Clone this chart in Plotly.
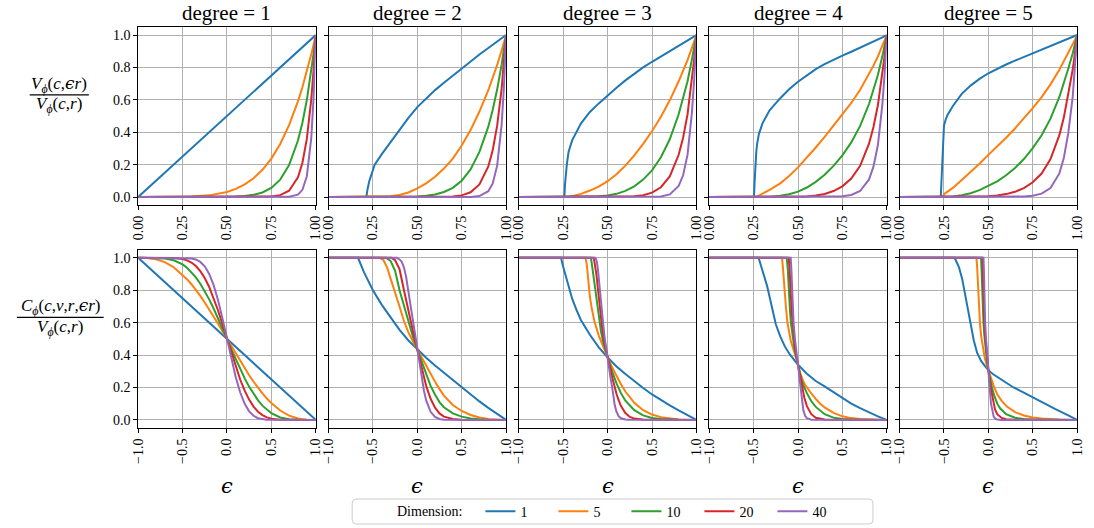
import plotly.graph_objects as go

# ---------------- data ----------------
COLORS = ["#1f77b4", "#ff7f0e", "#2ca02c", "#d62728", "#9467bd"]
DIMS = [1, 5, 10, 20, 40]
DEGREES = [1, 2, 3, 4, 5]
TOP_XTICKS = [0.0, 0.25, 0.5, 0.75, 1.0]
BOT_XTICKS = [-1.0, -0.5, 0.0, 0.5, 1.0]
YTICKS = [0.0, 0.2, 0.4, 0.6, 0.8, 1.0]

# top row: V(c, eps r) / V(c, r)
T1_X = [0, 0.1, 0.2, 0.3, 0.4, 0.5, 0.55, 0.6, 0.65, 0.7, 0.75, 0.8, 0.85, 0.9, 0.925, 0.95, 0.975, 0.9875, 1.0]
T1_N1 = [0, 0.1, 0.2, 0.3, 0.4, 0.5, 0.55, 0.6, 0.65, 0.7, 0.75, 0.8, 0.85, 0.9, 0.925, 0.95, 0.975, 0.9875, 1.0]
T1_N5 = [0, 0.00001, 0.00032, 0.00243, 0.01024, 0.03125, 0.0503, 0.07776, 0.116, 0.16807, 0.2373, 0.32768, 0.4437, 0.59049, 0.6772, 0.7738, 0.8811, 0.939, 1.0]
T1_N10 = [0, 0, 0, 0.00001, 0.0001, 0.00098, 0.00253, 0.00605, 0.01346, 0.02825, 0.0563, 0.1074, 0.1969, 0.3487, 0.4586, 0.5987, 0.7763, 0.8818, 1.0]
T1_N20 = [0, 0, 0, 0, 0, 0, 0.00001, 0.00004, 0.00018, 0.0008, 0.00317, 0.01153, 0.03876, 0.12158, 0.2103, 0.3585, 0.6027, 0.7776, 1.0]
T1_N40 = [0, 0, 0, 0, 0, 0, 0, 0, 0, 0, 0.00001, 0.00013, 0.0015, 0.01478, 0.04423, 0.1285, 0.3632, 0.6046, 1.0]

T2_X = [0, 0.213, 0.22, 0.23, 0.245, 0.26, 0.3, 0.35, 0.4, 0.45, 0.5, 0.55, 0.6, 0.65, 0.7, 0.75, 0.8, 0.85, 0.9, 0.925, 0.95, 0.975, 0.9875, 1.0]
T2_N1 = [0, 0, 0.05, 0.10, 0.15, 0.20, 0.265, 0.34, 0.415, 0.488, 0.555, 0.61, 0.66, 0.706, 0.75, 0.795, 0.838, 0.88, 0.92, 0.94, 0.96, 0.98, 0.99, 1.0]
T2_N5 = [0, 0, 0, 0.00001, 0.00008, 0.00032, 0.00131, 0.00454, 0.01231, 0.02768, 0.05266, 0.08445, 0.12522, 0.17539, 0.23731, 0.31757, 0.41326, 0.52775, 0.65909, 0.73391, 0.81537, 0.90392, 0.95099, 1.0]
T2_N10 = [0, 0, 0, 0, 0, 0, 0, 0.00002, 0.00015, 0.00077, 0.00277, 0.00713, 0.01568, 0.03076, 0.05632, 0.10085, 0.17078, 0.27852, 0.4344, 0.53863, 0.66483, 0.8171, 0.90438, 1.0]
T2_N20 = [0, 0, 0, 0, 0, 0, 0, 0, 0, 0, 0.00001, 0.00005, 0.00025, 0.00095, 0.00317, 0.01017, 0.02917, 0.07757, 0.1887, 0.29012, 0.442, 0.66765, 0.81791, 1.0]
T2_N40 = [0, 0, 0, 0, 0, 0, 0, 0, 0, 0, 0, 0, 0, 0, 0.00001, 0.0001, 0.00085, 0.00602, 0.03561, 0.08417, 0.19536, 0.44576, 0.66897, 1.0]

T3_X = [0, 0.256, 0.26, 0.265, 0.27, 0.28, 0.3, 0.35, 0.4, 0.45, 0.5, 0.55, 0.6, 0.65, 0.7, 0.75, 0.8, 0.85, 0.9, 0.925, 0.95, 0.975, 0.9875, 1.0]
T3_N1 = [0, 0, 0.08, 0.15, 0.2, 0.28, 0.35, 0.455, 0.525, 0.578, 0.628, 0.675, 0.72, 0.762, 0.8, 0.835, 0.869, 0.902, 0.935, 0.951, 0.967, 0.984, 0.992, 1.0]
T3_N5 = [0, 0, 0, 0.00008, 0.00032, 0.00172, 0.00525, 0.01951, 0.0399, 0.06453, 0.09767, 0.14014, 0.19349, 0.25692, 0.32768, 0.40592, 0.49556, 0.59711, 0.71457, 0.77784, 0.84552, 0.92252, 0.96064, 1.0]
T3_N10 = [0, 0, 0, 0, 0, 0, 0.00003, 0.00038, 0.00159, 0.00416, 0.00954, 0.01964, 0.03744, 0.06601, 0.10737, 0.16477, 0.24558, 0.35651, 0.51061, 0.60504, 0.71492, 0.85104, 0.92283, 1.0]
T3_N20 = [0, 0, 0, 0, 0, 0, 0, 0, 0, 0.00002, 0.00009, 0.00039, 0.0014, 0.00436, 0.01153, 0.02715, 0.06031, 0.1271, 0.26072, 0.36607, 0.51111, 0.72427, 0.85161, 1.0]
T3_N40 = [0, 0, 0, 0, 0, 0, 0, 0, 0, 0, 0, 0, 0, 0.00002, 0.00013, 0.00074, 0.00364, 0.01616, 0.06798, 0.13401, 0.26123, 0.52457, 0.72524, 1.0]

T4_X = [0, 0.252, 0.256, 0.26, 0.265, 0.27, 0.28, 0.3, 0.34, 0.4, 0.45, 0.5, 0.55, 0.6, 0.65, 0.7, 0.75, 0.8, 0.85, 0.9, 0.925, 0.95, 0.975, 0.9875, 1.0]
T4_N1 = [0, 0, 0.1, 0.2, 0.28, 0.33, 0.39, 0.455, 0.535, 0.61, 0.665, 0.712, 0.753, 0.789, 0.82, 0.848, 0.873, 0.897, 0.921, 0.946, 0.959, 0.972, 0.986, 0.993, 1.0]
T4_N5 = [0, 0, 0.00001, 0.00032, 0.00172, 0.00391, 0.00902, 0.01951, 0.04383, 0.08445, 0.13005, 0.18299, 0.24211, 0.30578, 0.37073, 0.43854, 0.50708, 0.5807, 0.66266, 0.75766, 0.81114, 0.86762, 0.93193, 0.96551, 1.0]
T4_N10 = [0, 0, 0, 0, 0, 0.00002, 0.00008, 0.00038, 0.00192, 0.00713, 0.01691, 0.03349, 0.05862, 0.0935, 0.13744, 0.19232, 0.25713, 0.33721, 0.43912, 0.57405, 0.65795, 0.75276, 0.86849, 0.93221, 1.0]
T4_N20 = [0, 0, 0, 0, 0, 0, 0, 0, 0, 0.00005, 0.00029, 0.00112, 0.00344, 0.00874, 0.01889, 0.03699, 0.06612, 0.11371, 0.19283, 0.32953, 0.4329, 0.56665, 0.75428, 0.869, 1.0]
T4_N40 = [0, 0, 0, 0, 0, 0, 0, 0, 0, 0, 0, 0, 0.00001, 0.00008, 0.00036, 0.00137, 0.00437, 0.01293, 0.03718, 0.10859, 0.1874, 0.3211, 0.56894, 0.75516, 1.0]

T5_X = [0, 0.232, 0.236, 0.24, 0.245, 0.25, 0.26, 0.27, 0.3, 0.35, 0.4, 0.45, 0.5, 0.55, 0.6, 0.65, 0.7, 0.75, 0.8, 0.85, 0.9, 0.925, 0.95, 0.975, 0.9875, 1.0]
T5_N1 = [0, 0, 0.1, 0.2, 0.35, 0.44, 0.48, 0.507, 0.562, 0.637, 0.688, 0.729, 0.764, 0.792, 0.818, 0.842, 0.865, 0.887, 0.908, 0.93, 0.953, 0.965, 0.977, 0.988, 0.994, 1.0]
T5_N5 = [0, 0, 0.00001, 0.00032, 0.00525, 0.01649, 0.02548, 0.0335, 0.05605, 0.10488, 0.15414, 0.2059, 0.26029, 0.31163, 0.36623, 0.42321, 0.48422, 0.54903, 0.6172, 0.69568, 0.78607, 0.83678, 0.89013, 0.94141, 0.97036, 1.0]
T5_N10 = [0, 0, 0, 0, 0.00003, 0.00027, 0.00065, 0.00112, 0.00314, 0.011, 0.02376, 0.04239, 0.06775, 0.09711, 0.13412, 0.17911, 0.23447, 0.30143, 0.38094, 0.48397, 0.61791, 0.7002, 0.79233, 0.88625, 0.94159, 1.0]
T5_N20 = [0, 0, 0, 0, 0, 0, 0, 0, 0.00001, 0.00012, 0.00056, 0.0018, 0.00459, 0.00943, 0.01799, 0.03208, 0.05498, 0.09086, 0.14512, 0.23423, 0.38181, 0.49028, 0.62779, 0.78544, 0.88659, 1.0]
T5_N40 = [0, 0, 0, 0, 0, 0, 0, 0, 0, 0, 0, 0, 0.00002, 0.00009, 0.00032, 0.00103, 0.00302, 0.00826, 0.02106, 0.05486, 0.14578, 0.24037, 0.39412, 0.61692, 0.78604, 1.0]

# bottom row: C(c, v, r, eps r) / V(c, r)
B1_X = [-1, -0.9, -0.8, -0.7, -0.6, -0.5, -0.45, -0.4, -0.35, -0.3, -0.25, -0.2, -0.15, -0.1, -0.05, 0, 0.05, 0.1, 0.15, 0.2, 0.25, 0.3, 0.35, 0.4, 0.45, 0.5, 0.6, 0.7, 0.8, 0.9, 1]
B1_N1 = [1, 0.95, 0.9, 0.85, 0.8, 0.75, 0.725, 0.7, 0.675, 0.65, 0.625, 0.6, 0.575, 0.55, 0.525, 0.5, 0.475, 0.45, 0.425, 0.4, 0.375, 0.35, 0.325, 0.3, 0.275, 0.25, 0.2, 0.15, 0.1, 0.05, 0]
B1_N5 = [1, 0.9988, 0.9914, 0.9734, 0.9421, 0.8965, 0.8684, 0.8369, 0.8023, 0.7648, 0.7248, 0.6826, 0.6385, 0.5931, 0.5468, 0.5, 0.4532, 0.4069, 0.3615, 0.3174, 0.2752, 0.2352, 0.1977, 0.1631, 0.1316, 0.1035, 0.0579, 0.0266, 0.0086, 0.0012, 0]
B1_N10 = [1, 1, 0.9995, 0.9961, 0.9849, 0.9591, 0.9386, 0.9122, 0.8794, 0.8403, 0.7949, 0.7438, 0.6875, 0.6274, 0.5644, 0.5, 0.4356, 0.3726, 0.3125, 0.2562, 0.2051, 0.1597, 0.1206, 0.0878, 0.0614, 0.0409, 0.0151, 0.0039, 0.0005, 0, 0]
B1_N20 = [1, 1, 1, 0.9999, 0.9988, 0.9924, 0.9846, 0.9707, 0.9493, 0.9179, 0.875, 0.8199, 0.7525, 0.6751, 0.5893, 0.5, 0.4107, 0.3249, 0.2475, 0.1801, 0.125, 0.0821, 0.0507, 0.0293, 0.0154, 0.0076, 0.0012, 0.0001, 0, 0, 0]
B1_N40 = [1, 1, 1, 1, 1, 0.9997, 0.9989, 0.9961, 0.9897, 0.9747, 0.9475, 0.9008, 0.8312, 0.7383, 0.6239, 0.5, 0.3761, 0.2617, 0.1688, 0.0992, 0.0525, 0.0253, 0.0103, 0.0039, 0.0011, 0.0003, 0, 0, 0, 0, 0]

B2_N1_X = [-1, -0.668, -0.6, -0.5, -0.4, -0.3, -0.2, -0.1, 0, 0.1, 0.2, 0.3, 0.4, 0.5, 0.6, 0.7, 0.8, 0.9, 1]
B2_N1_Y = [1, 1, 0.91, 0.80, 0.71, 0.63, 0.555, 0.49, 0.434, 0.383, 0.335, 0.29, 0.245, 0.2, 0.156, 0.114, 0.074, 0.036, 0]
B2_N5_X = [-1, -0.42, -0.38, -0.34, -0.3, -0.25, -0.2, -0.15, -0.1, -0.05, 0, 0.05, 0.1, 0.15, 0.2, 0.25, 0.3, 0.4, 0.5, 0.6, 0.7, 0.8, 0.9, 1]
B2_N5_Y = [1, 1, 0.985, 0.94, 0.87, 0.79, 0.70, 0.61, 0.54, 0.485, 0.434, 0.385, 0.335, 0.285, 0.235, 0.19, 0.15, 0.092, 0.055, 0.03, 0.015, 0.006, 0.002, 0]
B2_N10_X = [-1, -0.35, -0.3, -0.25, -0.2, -0.15, -0.1, -0.05, 0, 0.05, 0.1, 0.15, 0.2, 0.25, 0.3, 0.4, 0.5, 0.6, 0.7, 0.8, 1]
B2_N10_Y = [1, 1, 0.98, 0.92, 0.80, 0.70, 0.60, 0.515, 0.434, 0.355, 0.28, 0.21, 0.155, 0.11, 0.078, 0.04, 0.02, 0.009, 0.004, 0.001, 0]
B2_N20_X = [-1, -0.29, -0.25, -0.2, -0.15, -0.1, -0.05, 0, 0.05, 0.1, 0.15, 0.2, 0.25, 0.3, 0.4, 0.5, 1]
B2_N20_Y = [1, 1, 0.985, 0.93, 0.80, 0.67, 0.55, 0.434, 0.32, 0.21, 0.13, 0.075, 0.04, 0.02, 0.005, 0.001, 0]
B2_N40_X = [-1, -0.23, -0.2, -0.175, -0.15, -0.125, -0.1, -0.075, -0.05, -0.025, 0, 0.025, 0.05, 0.075, 0.1, 0.15, 0.2, 0.25, 0.3, 1]
B2_N40_Y = [1, 1, 0.99, 0.975, 0.94, 0.88, 0.79, 0.70, 0.61, 0.525, 0.434, 0.345, 0.26, 0.18, 0.12, 0.05, 0.018, 0.006, 0.001, 0]

B3_N1_X = [-1, -0.526, -0.5, -0.45, -0.4, -0.35, -0.3, -0.2, -0.1, 0, 0.1, 0.2, 0.3, 0.4, 0.5, 0.6, 0.7, 0.8, 0.9, 1]
B3_N1_Y = [1, 1, 0.944, 0.837, 0.748, 0.677, 0.615, 0.525, 0.448, 0.385, 0.33, 0.283, 0.239, 0.197, 0.157, 0.121, 0.089, 0.058, 0.028, 0]
B3_N5_X = [-1, -0.25, -0.235, -0.22, -0.2, -0.18, -0.15, -0.1, -0.05, 0, 0.05, 0.1, 0.15, 0.2, 0.25, 0.3, 0.4, 0.5, 0.6, 0.7, 0.8, 0.9, 1]
B3_N5_Y = [1, 1, 0.96, 0.87, 0.76, 0.69, 0.61, 0.52, 0.45, 0.385, 0.325, 0.27, 0.22, 0.175, 0.137, 0.105, 0.06, 0.033, 0.017, 0.008, 0.003, 0.001, 0]
B3_N10_X = [-1, -0.19, -0.18, -0.17, -0.15, -0.12, -0.1, -0.075, -0.05, -0.025, 0, 0.025, 0.05, 0.075, 0.1, 0.15, 0.2, 0.3, 0.4, 0.5, 0.6, 0.8, 1]
B3_N10_Y = [1, 1, 0.97, 0.93, 0.82, 0.70, 0.62, 0.545, 0.48, 0.43, 0.385, 0.34, 0.3, 0.26, 0.225, 0.165, 0.118, 0.06, 0.028, 0.012, 0.005, 0.001, 0]
B3_N20_X = [-1, -0.16, -0.15, -0.14, -0.125, -0.11, -0.095, -0.08, -0.06, -0.04, -0.02, 0, 0.02, 0.04, 0.06, 0.08, 0.1, 0.125, 0.15, 0.2, 0.25, 0.3, 0.4, 1]
B3_N20_Y = [1, 1, 0.98, 0.95, 0.89, 0.81, 0.72, 0.64, 0.56, 0.49, 0.435, 0.385, 0.335, 0.29, 0.245, 0.2, 0.16, 0.12, 0.085, 0.042, 0.018, 0.008, 0.002, 0]
B3_N40_X = [-1, -0.14, -0.13, -0.12, -0.11, -0.1, -0.09, -0.08, -0.065, -0.05, -0.035, -0.02, 0, 0.02, 0.035, 0.05, 0.065, 0.08, 0.1, 0.125, 0.15, 0.2, 0.25, 1]
B3_N40_Y = [1, 1, 0.99, 0.97, 0.93, 0.88, 0.83, 0.77, 0.68, 0.59, 0.51, 0.45, 0.385, 0.31, 0.25, 0.205, 0.14, 0.09, 0.05, 0.022, 0.01, 0.003, 0.001, 0]

B4_N1_X = [-1, -0.444, -0.4, -0.35, -0.3, -0.25, -0.2, -0.15, -0.1, -0.05, 0, 0.1, 0.2, 0.3, 0.4, 0.5, 0.6, 0.7, 0.8, 0.9, 1]
B4_N1_Y = [1, 1, 0.92, 0.83, 0.71, 0.59, 0.515, 0.455, 0.41, 0.372, 0.34, 0.285, 0.24, 0.207, 0.17, 0.132, 0.1, 0.072, 0.046, 0.022, 0]
B4_N5_X = [-1, -0.18, -0.17, -0.153, -0.135, -0.119, -0.1, -0.082, -0.06, -0.034, 0, 0.02, 0.04, 0.06, 0.08, 0.1, 0.15, 0.2, 0.25, 0.3, 0.4, 0.5, 0.6, 0.7, 0.8, 1]
B4_N5_Y = [1, 1, 0.94, 0.80, 0.69, 0.60, 0.535, 0.49, 0.45, 0.405, 0.34, 0.295, 0.262, 0.237, 0.217, 0.2, 0.163, 0.13, 0.1, 0.077, 0.043, 0.022, 0.011, 0.005, 0.002, 0]
B4_N10_X = [-1, -0.127, -0.115, -0.105, -0.09, -0.08, -0.06, -0.04, -0.02, 0, 0.02, 0.04, 0.06, 0.071, 0.1, 0.15, 0.2, 0.3, 0.4, 0.5, 0.6, 1]
B4_N10_Y = [1, 1, 0.93, 0.80, 0.67, 0.60, 0.50, 0.44, 0.39, 0.34, 0.285, 0.245, 0.215, 0.2, 0.165, 0.115, 0.08, 0.035, 0.014, 0.005, 0.002, 0]
B4_N20_X = [-1, -0.104, -0.095, -0.085, -0.07, -0.06, -0.045, -0.03, -0.015, 0, 0.015, 0.03, 0.045, 0.07, 0.1, 0.15, 0.2, 0.3, 1]
B4_N20_Y = [1, 1, 0.93, 0.80, 0.66, 0.60, 0.50, 0.435, 0.385, 0.34, 0.29, 0.245, 0.2, 0.14, 0.085, 0.035, 0.013, 0.002, 0]
B4_N40_X = [-1, -0.082, -0.075, -0.068, -0.058, -0.05, -0.035, -0.02, -0.01, 0, 0.01, 0.02, 0.026, 0.04, 0.06, 0.08, 0.1, 0.15, 1]
B4_N40_Y = [1, 1, 0.93, 0.80, 0.68, 0.60, 0.50, 0.425, 0.38, 0.34, 0.29, 0.235, 0.2, 0.13, 0.06, 0.025, 0.01, 0.001, 0]

B5_N1_X = [-1, -0.38, -0.35, -0.33, -0.295, -0.257, -0.22, -0.194, -0.164, -0.127, -0.082, -0.04, 0, 0.05, 0.1, 0.172, 0.284, 0.4, 0.5, 0.6, 0.75, 0.9, 1]
B5_N1_Y = [1, 1, 0.965, 0.94, 0.87, 0.755, 0.65, 0.57, 0.49, 0.415, 0.364, 0.333, 0.307, 0.283, 0.265, 0.24, 0.2, 0.168, 0.138, 0.11, 0.068, 0.028, 0]
B5_N5_X = [-1, -0.134, -0.125, -0.115, -0.105, -0.095, -0.082, -0.06, -0.04, -0.02, 0, 0.02, 0.04, 0.067, 0.1, 0.15, 0.21, 0.3, 0.4, 0.5, 0.6, 0.7, 0.8, 1]
B5_N5_Y = [1, 1, 0.93, 0.80, 0.70, 0.60, 0.52, 0.43, 0.38, 0.34, 0.307, 0.265, 0.235, 0.2, 0.158, 0.117, 0.082, 0.048, 0.027, 0.015, 0.008, 0.004, 0.002, 0]
B5_N10_X = [-1, -0.082, -0.076, -0.07, -0.063, -0.055, -0.045, -0.03, -0.015, 0, 0.015, 0.03, 0.041, 0.06, 0.1, 0.134, 0.2, 0.3, 0.4, 0.5, 1]
B5_N10_Y = [1, 1, 0.92, 0.80, 0.70, 0.60, 0.52, 0.43, 0.36, 0.307, 0.26, 0.22, 0.2, 0.16, 0.1, 0.07, 0.035, 0.013, 0.005, 0.002, 0]
B5_N20_X = [-1, -0.067, -0.062, -0.057, -0.052, -0.045, -0.035, -0.02, -0.01, 0, 0.01, 0.026, 0.05, 0.075, 0.1, 0.15, 0.2, 0.3, 1]
B5_N20_Y = [1, 1, 0.92, 0.80, 0.70, 0.60, 0.51, 0.41, 0.35, 0.307, 0.26, 0.2, 0.12, 0.065, 0.035, 0.012, 0.004, 0.0005, 0]
B5_N40_X = [-1, -0.055, -0.05, -0.046, -0.042, -0.036, -0.027, -0.015, -0.007, 0, 0.007, 0.015, 0.03, 0.045, 0.06, 0.08, 0.1, 0.15, 1]
B5_N40_Y = [1, 1, 0.92, 0.80, 0.70, 0.60, 0.51, 0.40, 0.35, 0.307, 0.255, 0.2, 0.1, 0.045, 0.02, 0.006, 0.002, 0, 0]

TOP = {
    1: [(T1_X, T1_N1), (T1_X, T1_N5), (T1_X, T1_N10), (T1_X, T1_N20), (T1_X, T1_N40)],
    2: [(T2_X, T2_N1), (T2_X, T2_N5), (T2_X, T2_N10), (T2_X, T2_N20), (T2_X, T2_N40)],
    3: [(T3_X, T3_N1), (T3_X, T3_N5), (T3_X, T3_N10), (T3_X, T3_N20), (T3_X, T3_N40)],
    4: [(T4_X, T4_N1), (T4_X, T4_N5), (T4_X, T4_N10), (T4_X, T4_N20), (T4_X, T4_N40)],
    5: [(T5_X, T5_N1), (T5_X, T5_N5), (T5_X, T5_N10), (T5_X, T5_N20), (T5_X, T5_N40)],
}
BOT = {
    1: [(B1_X, B1_N1), (B1_X, B1_N5), (B1_X, B1_N10), (B1_X, B1_N20), (B1_X, B1_N40)],
    2: [(B2_N1_X, B2_N1_Y), (B2_N5_X, B2_N5_Y), (B2_N10_X, B2_N10_Y), (B2_N20_X, B2_N20_Y), (B2_N40_X, B2_N40_Y)],
    3: [(B3_N1_X, B3_N1_Y), (B3_N5_X, B3_N5_Y), (B3_N10_X, B3_N10_Y), (B3_N20_X, B3_N20_Y), (B3_N40_X, B3_N40_Y)],
    4: [(B4_N1_X, B4_N1_Y), (B4_N5_X, B4_N5_Y), (B4_N10_X, B4_N10_Y), (B4_N20_X, B4_N20_Y), (B4_N40_X, B4_N40_Y)],
    5: [(B5_N1_X, B5_N1_Y), (B5_N5_X, B5_N5_Y), (B5_N10_X, B5_N10_Y), (B5_N20_X, B5_N20_Y), (B5_N40_X, B5_N40_Y)],
}

# ---------------- layout geometry (pixels) ----------------
W, H = 1094, 528
COL_PX = [(133, 313), (326, 506), (519, 699), (712, 892), (905, 1085)]
ROW_PX = [(27, 205.5), (250.2, 428.8)]
FONT = "Liberation Serif"
EPS = '<span style="font-family:DejaVu Serif">ϵ</span>'


def px_x(p):
    return p / W


def px_y(p):
    return 1 - p / H


fig = go.Figure()
layout = dict(
    width=W, height=H, autosize=False,
    margin=dict(l=0, r=0, t=0, b=0),
    paper_bgcolor="white", plot_bgcolor="white",
    font=dict(family=FONT, size=14, color="black"),
    showlegend=True,
)

for r in range(2):
    for c, deg in enumerate(DEGREES):
        idx = r * 5 + c + 1
        xa = "xaxis" if idx == 1 else f"xaxis{idx}"
        ya = "yaxis" if idx == 1 else f"yaxis{idx}"
        xref = "x" if idx == 1 else f"x{idx}"
        yref = "y" if idx == 1 else f"y{idx}"
        common = dict(
            showline=True, linecolor="black", linewidth=1, mirror=True,
            ticks="outside", ticklen=4, tickwidth=1, tickcolor="black",
            showgrid=True, gridcolor="#b0b0b0", gridwidth=1, zeroline=False,
            tickfont=dict(family=FONT, size=14, color="black"),
            fixedrange=True,
        )
        if r == 0:
            xcfg = dict(common, range=[0, 1], tickvals=TOP_XTICKS, tickformat=".2f", tickangle=-90)
        else:
            xcfg = dict(common, range=[-1, 1], tickvals=BOT_XTICKS, tickformat=".1f", tickangle=-90)
        xcfg["domain"] = [px_x(COL_PX[c][0]), px_x(COL_PX[c][1])]
        xcfg["anchor"] = yref
        ycfg = dict(common, range=[-0.05, 1.05], tickvals=YTICKS, tickformat=".1f",
                    showticklabels=(c == 0))
        ycfg["domain"] = [px_y(ROW_PX[r][1]), px_y(ROW_PX[r][0])]
        ycfg["anchor"] = xref
        layout[xa] = xcfg
        layout[ya] = ycfg

        series = TOP[deg] if r == 0 else BOT[deg]
        for k, (xs, ys) in enumerate(series):
            fig.add_trace(go.Scatter(
                x=xs, y=ys, mode="lines", xaxis=xref, yaxis=yref,
                line=dict(color=COLORS[k], width=2),
                name=str(DIMS[k]), legendgroup=str(DIMS[k]),
                showlegend=(idx == 1), hoverinfo="skip",
            ))

annotations = []
shapes = []
for c, deg in enumerate(DEGREES):
    cx = px_x((COL_PX[c][0] + COL_PX[c][1]) / 2)
    annotations.append(dict(text=f"degree = {deg}", x=cx, y=px_y(13), xref="paper", yref="paper",
                            showarrow=False, xanchor="center", yanchor="middle",
                            font=dict(family=FONT, size=21, color="black")))
    annotations.append(dict(text=f"<i>{EPS}</i>", x=cx, y=px_y(487), xref="paper", yref="paper",
                            showarrow=False, xanchor="center", yanchor="middle",
                            font=dict(family=FONT, size=21, color="black")))

# y labels as fractions
annotations.append(dict(text=f"<i>V</i><sub><i>ϕ</i></sub>(<i>c</i>,<i>{EPS}r</i>)", x=px_x(53), y=px_y(85),
                        xref="paper", yref="paper", showarrow=False, xanchor="center", yanchor="middle",
                        font=dict(family=FONT, size=17, color="black")))
annotations.append(dict(text="<i>V</i><sub><i>ϕ</i></sub>(<i>c</i>,<i>r</i>)", x=px_x(53), y=px_y(105),
                        xref="paper", yref="paper", showarrow=False, xanchor="center", yanchor="middle",
                        font=dict(family=FONT, size=17, color="black")))
shapes.append(dict(type="line", xref="paper", yref="paper", x0=px_x(23), x1=px_x(83),
                   y0=px_y(95), y1=px_y(95), line=dict(color="black", width=1.3)))
annotations.append(dict(text=f"<i>C</i><sub><i>ϕ</i></sub>(<i>c</i>,<i>v</i>,<i>r</i>,<i>{EPS}r</i>)", x=px_x(54), y=px_y(307),
                        xref="paper", yref="paper", showarrow=False, xanchor="center", yanchor="middle",
                        font=dict(family=FONT, size=17, color="black")))
annotations.append(dict(text="<i>V</i><sub><i>ϕ</i></sub>(<i>c</i>,<i>r</i>)", x=px_x(54), y=px_y(329),
                        xref="paper", yref="paper", showarrow=False, xanchor="center", yanchor="middle",
                        font=dict(family=FONT, size=17, color="black")))
shapes.append(dict(type="line", xref="paper", yref="paper", x0=px_x(10), x1=px_x(98),
                   y0=px_y(318), y1=px_y(318), line=dict(color="black", width=1.3)))

# legend frame and label
lx0, lx1, ly0, ly1 = px_x(350), px_x(878), px_y(500), px_y(525)
rx, ry = 4 / W, 4 / H
path = (f"M {lx0+rx},{ly0} L {lx1-rx},{ly0} Q {lx1},{ly0} {lx1},{ly0-ry} "
        f"L {lx1},{ly1+ry} Q {lx1},{ly1} {lx1-rx},{ly1} L {lx0+rx},{ly1} "
        f"Q {lx0},{ly1} {lx0},{ly1+ry} L {lx0},{ly0-ry} Q {lx0},{ly0} {lx0+rx},{ly0} Z")
shapes.append(dict(type="path", path=path, xref="paper", yref="paper",
                   line=dict(color="#cccccc", width=1), fillcolor="rgba(255,255,255,0.8)", layer="below"))
annotations.append(dict(text="Dimension:", x=px_x(393), y=px_y(512.5), xref="paper", yref="paper",
                        showarrow=False, xanchor="left", yanchor="middle",
                        font=dict(family=FONT, size=14, color="black")))

layout["annotations"] = annotations
layout["shapes"] = shapes
layout["legend"] = dict(orientation="h", x=px_x(480), y=px_y(512.5), xanchor="left", yanchor="middle",
                        bgcolor="rgba(0,0,0,0)", borderwidth=0, entrywidth=28, entrywidthmode="pixels",
                        font=dict(family=FONT, size=14, color="black"), itemclick=False, itemdoubleclick=False)

fig.update_layout(**layout)
fig.write_html("out.html")
